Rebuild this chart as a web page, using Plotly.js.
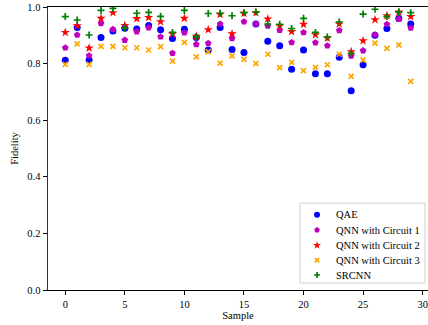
<!DOCTYPE html>
<html>
<head>
<meta charset="utf-8">
<script src="https://cdn.plot.ly/plotly-3.0.1.min.js"></script>
<style>html,body{margin:0;padding:0;overflow:hidden;background:#fff;}</style>
</head>
<body>
<div id="chart" style="width:428px;height:325px;"></div>
<script>
const samples = Array.from({length: 30}, (_, i) => i);
const qae = [0.812,0.928,0.813,0.892,0.915,0.925,0.922,0.935,0.920,0.889,
             0.921,0.892,0.848,0.928,0.850,0.839,0.940,0.879,0.863,0.780,
             0.848,0.764,0.764,0.822,0.704,0.796,0.900,0.924,0.959,0.940];
const qnn1 = [0.856,0.901,0.828,0.942,0.921,0.883,0.913,0.927,0.895,0.837,
              0.909,0.868,0.872,0.940,0.889,0.948,0.940,0.933,0.918,0.875,
              0.910,0.874,0.863,0.917,0.827,0.846,0.902,0.939,0.957,0.926];
const qnn2 = [0.910,0.934,0.855,0.960,0.980,0.935,0.959,0.963,0.948,0.905,
              0.960,0.897,0.920,0.974,0.905,0.978,0.980,0.958,0.933,0.913,
              0.939,0.902,0.890,0.940,0.842,0.881,0.955,0.969,0.982,0.966];
const qnn3 = [0.797,0.870,0.797,0.861,0.861,0.856,0.856,0.848,0.860,0.809,
              0.875,0.824,0.842,0.802,0.827,0.815,0.800,0.833,0.786,0.804,
              0.775,0.787,0.796,0.833,0.755,0.812,0.872,0.854,0.866,0.737];
const srcnn = [0.966,0.954,0.901,0.988,0.995,0.925,0.978,0.981,0.967,0.910,
               0.988,0.895,0.977,0.978,0.969,0.980,0.982,0.940,0.939,0.924,
               0.960,0.910,0.894,0.947,0.836,0.975,0.992,0.966,0.982,0.980];
const names = ["QAE","QNN with Circuit 1","QNN with Circuit 2","QNN with Circuit 3","SRCNN"];
const seriesValues = [qae, qnn1, qnn2, qnn3, srcnn];

const serif = "Liberation Serif, Times New Roman, serif";
const markerStyles = [
  {symbol: "circle", size: 7, color: "#0000ff"},
  {symbol: "pentagon", size: 7, color: "#bf00bf"},
  {symbol: "star", size: 7, color: "#ff0000"},
  {symbol: "x-thin", size: 5, color: "#ffa500", line: {color: "#ffa500", width: 1.7}},
  {symbol: "cross-thin", size: 5, color: "#008000", line: {color: "#008000", width: 1.7}}
];
const legendScale = 0.85;

const traces = seriesValues.map((vals, k) => ({
  x: samples, y: vals, name: names[k], type: "scatter", mode: "markers",
  marker: markerStyles[k], showlegend: false
}));

// Matplotlib-style legend (compact rows) built in overlay coordinates
const legMarkerX = 0.708, legTextX = 0.753;
const legRowsY = [0.266, 0.212, 0.158, 0.105, 0.053];
names.forEach((n, k) => {
  const m = Object.assign({}, markerStyles[k], {size: markerStyles[k].size * legendScale});
  traces.push({
    x: [legMarkerX], y: [legRowsY[k]], xaxis: "x2", yaxis: "y2",
    type: "scatter", mode: "markers", marker: m,
    showlegend: false, hoverinfo: "skip"
  });
});
const annotations = names.map((n, k) => ({
  xref: "paper", yref: "paper", x: legTextX, y: legRowsY[k],
  xanchor: "left", yanchor: "middle", showarrow: false, text: n,
  font: {family: serif, size: 10.5, color: "#000"}
}));

const layout = {
  width: 428, height: 325,
  margin: {l: 48, r: 0, t: 7, b: 35},
  paper_bgcolor: "#fff", plot_bgcolor: "#fff",
  font: {family: serif, size: 10.5, color: "#000"},
  showlegend: false,
  xaxis: {
    range: [-1.45, 30.45], tickmode: "linear", tick0: 0, dtick: 5,
    showgrid: false, zeroline: false, showline: true, linecolor: "#000", linewidth: 1,
    mirror: true, ticks: "outside", ticklen: 4, tickcolor: "#000",
    title: {text: "Sample", font: {family: serif, size: 10.5}, standoff: 2},
    tickfont: {family: serif, size: 10.5}
  },
  yaxis: {
    range: [0, 1.0], tickmode: "linear", tick0: 0, dtick: 0.2, tickformat: ".1f",
    showgrid: false, zeroline: false, showline: true, linecolor: "#333", linewidth: 1.5,
    mirror: true, ticks: "outside", ticklen: 4, tickcolor: "#000",
    title: {text: "Fidelity", font: {family: serif, size: 10.5}, standoff: 6},
    tickfont: {family: serif, size: 10.5}
  },
  xaxis2: {overlaying: "x", range: [0, 1], visible: false, fixedrange: true},
  yaxis2: {overlaying: "y", range: [0, 1], visible: false, fixedrange: true},
  shapes: [{
    type: "rect", xref: "paper", yref: "paper", layer: "below",
    x0: 0.663, x1: 0.992, y0: 0.025, y1: 0.307,
    fillcolor: "rgba(255,255,255,0.9)", line: {color: "#d0d0d0", width: 1}
  }],
  annotations: annotations
};

Plotly.newPlot("chart", traces, layout, {displayModeBar: false, staticPlot: true});
</script>
</body>
</html>
